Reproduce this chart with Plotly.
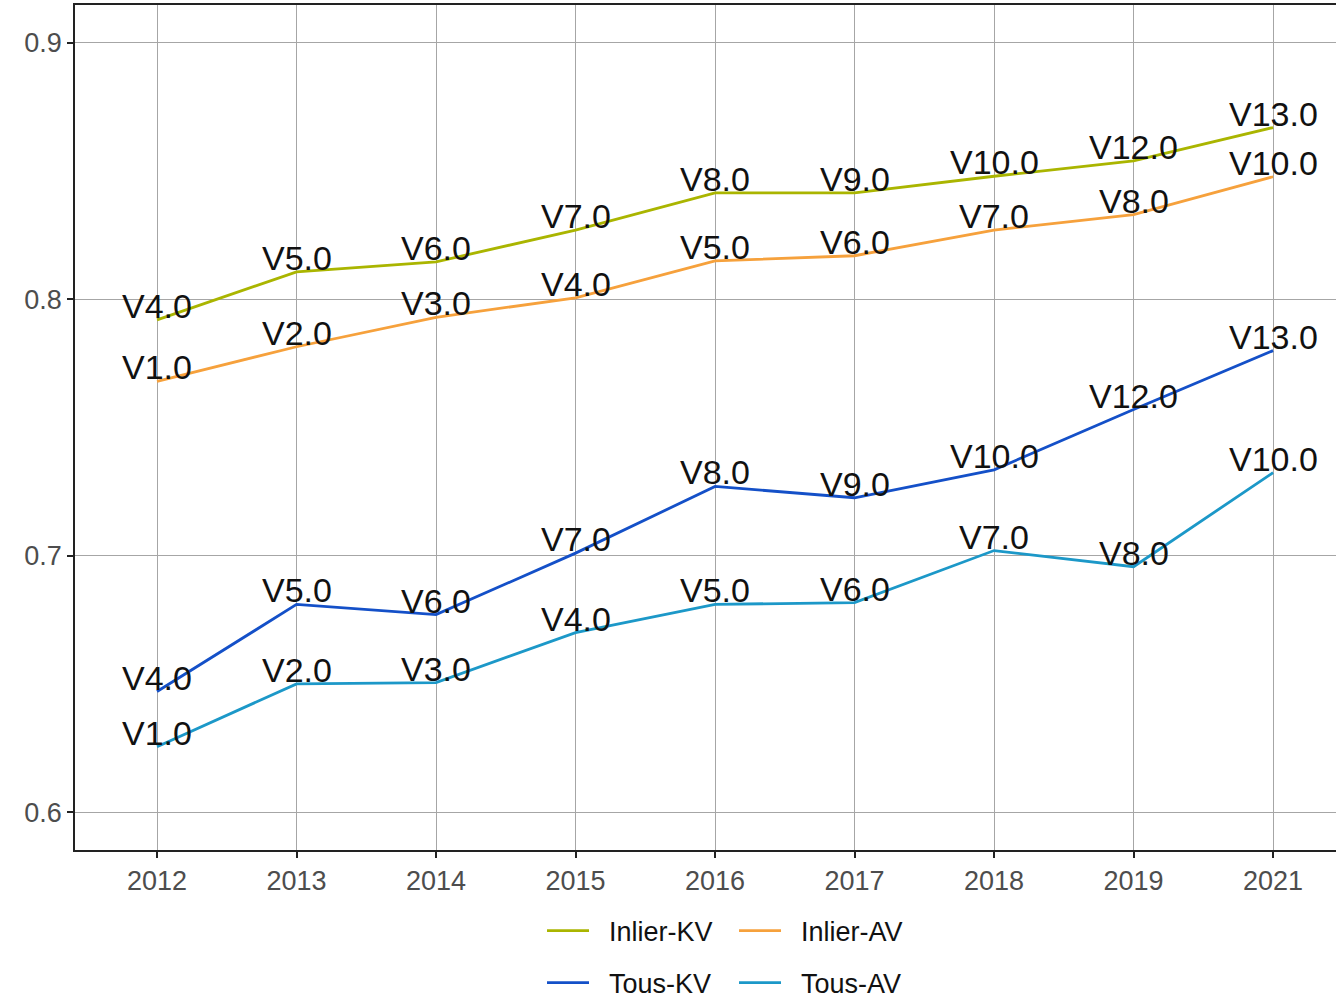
import plotly.graph_objects as go

years = ["2012", "2013", "2014", "2015", "2016", "2017", "2018", "2019", "2021"]

inlier_kv = [0.792, 0.8107, 0.8146, 0.827, 0.8415, 0.8415, 0.848, 0.854, 0.867]
inlier_kv_labels = ["V4.0", "V5.0", "V6.0", "V7.0", "V8.0", "V9.0", "V10.0", "V12.0", "V13.0"]

inlier_av = [0.768, 0.7815, 0.793, 0.8006, 0.815, 0.817, 0.827, 0.833, 0.8478]
inlier_av_labels = ["V1.0", "V2.0", "V3.0", "V4.0", "V5.0", "V6.0", "V7.0", "V8.0", "V10.0"]

tous_kv = [0.647, 0.681, 0.677, 0.701, 0.727, 0.7226, 0.7335, 0.757, 0.780]
tous_kv_labels = ["V4.0", "V5.0", "V6.0", "V7.0", "V8.0", "V9.0", "V10.0", "V12.0", "V13.0"]

tous_av = [0.6255, 0.650, 0.6505, 0.670, 0.681, 0.6817, 0.702, 0.6957, 0.7324]
tous_av_labels = ["V1.0", "V2.0", "V3.0", "V4.0", "V5.0", "V6.0", "V7.0", "V8.0", "V10.0"]

series = [
    ("Inlier-KV", inlier_kv, inlier_kv_labels, "#AAB500", "legend"),
    ("Inlier-AV", inlier_av, inlier_av_labels, "#F6A13C", "legend"),
    ("Tous-KV", tous_kv, tous_kv_labels, "#1450C8", "legend2"),
    ("Tous-AV", tous_av, tous_av_labels, "#1C98C8", "legend2"),
]

FONT = "Liberation Sans, Arial, sans-serif"
GAP = "\u00a0\u00a0"  # space between legend key and its label

fig = go.Figure()
for name, vals, labels, color, leg in series:
    fig.add_trace(go.Scatter(
        x=years, y=vals, name=GAP + name, mode="lines",
        line=dict(color=color, width=2.8),
        legend=leg,
    ))
# version labels sit just above each point (category index used for x)
for name, vals, labels, color, leg in series:
    for i, (v, lab) in enumerate(zip(vals, labels)):
        fig.add_annotation(
            x=i, y=v, text=lab, showarrow=False,
            xanchor="center", yanchor="bottom", yshift=-7,
            font=dict(family=FONT, size=34, color="#111111"),
        )

axis_common = dict(
    showline=True, linecolor="#222222", linewidth=1.5,
    ticks="outside", ticklen=6, tickwidth=1.5, tickcolor="#222222",
    tickfont=dict(family=FONT, size=27, color="#4D4D4D"),
    showgrid=True, gridcolor="#A6A6A6", gridwidth=1, zeroline=False,
)

fig.update_xaxes(type="category", range=[-0.588, 8.451], mirror=True, **axis_common)
fig.update_yaxes(range=[0.5852, 0.9148], tickvals=[0.6, 0.7, 0.8, 0.9],
                 ticktext=["0.6", "0.7", "0.8", "0.9"], **axis_common)

legend_common = dict(
    orientation="h", xanchor="left", yanchor="middle",
    xref="container", yref="container",
    font=dict(family=FONT, size=27, color="#111111"),
    bgcolor="rgba(0,0,0,0)", entrywidth=135, itemwidth=42,
)

fig.update_layout(
    width=1336, height=998,
    margin=dict(l=75, r=0, t=5, b=148, autoexpand=False),
    plot_bgcolor="white", paper_bgcolor="white",
    showlegend=True,
    legend=dict(x=0.4057, y=0.067, **legend_common),
    legend2=dict(x=0.4057, y=0.015, **legend_common),
)

fig.write_html("out.html")
